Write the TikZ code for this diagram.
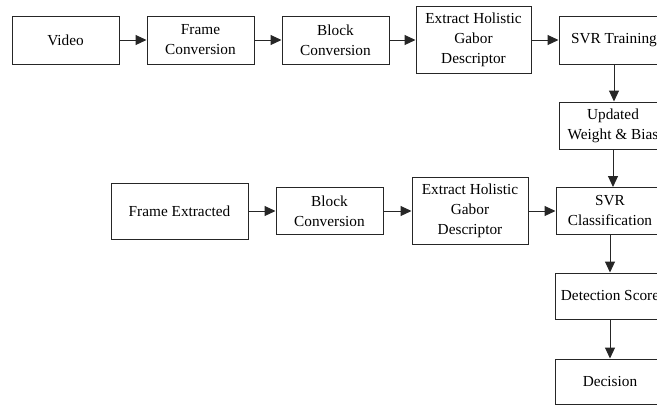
\documentclass[tikz,border=0pt]{standalone}
\usepackage{fontspec}
\setmainfont{Liberation Serif}
\usetikzlibrary{arrows.meta}
\begin{document}
\begin{tikzpicture}[x=1pt,y=-1pt,
  box/.style={draw=black!85,line width=1pt,rectangle,inner sep=0pt,align=center,
    font=\fontsize{15.3}{20}\selectfont},
  arr/.style={draw=black!85,line width=1pt,-{Triangle[length=11pt,width=10pt]}}]
\useasboundingbox (0,0) rectangle (657,408);
\node[box,minimum width=107pt,minimum height=48pt] (video) at (65.5,40) {Video};
\node[box,minimum width=107pt,minimum height=48pt] (frame) at (200.5,40) {Frame\\Conversion};
\node[box,minimum width=107pt,minimum height=48pt] (block) at (335.5,40) {Block\\Conversion};
\node[box,minimum width=115pt,minimum height=67pt] (ext1) at (473.5,40) {Extract Holistic\\Gabor\\Descriptor};
\node[box,minimum width=110pt,minimum height=48pt] (train) at (614,40) {SVR Training};
\node[box,minimum width=108pt,minimum height=47pt] (upd) at (613,125.5) {Updated\\Weight \& Bias};
\node[box,minimum width=108pt,minimum height=47pt] (cls) at (610,211) {SVR\\Classification};
\node[box,minimum width=116pt,minimum height=67pt] (ext2) at (470,211) {Extract Holistic\\Gabor\\Descriptor};
\node[box,minimum width=107pt,minimum height=47pt] (block2) at (329.5,211) {Block\\Conversion};
\node[box,minimum width=137pt,minimum height=56pt] (fex) at (179.5,211) {Frame Extracted};
\node[box,minimum width=110pt,minimum height=46pt] (det) at (610,296) {Detection Score};
\node[box,minimum width=110pt,minimum height=45pt] (dec) at (610,381.5) {Decision};
\draw[arr] (video) -- (frame);
\draw[arr] (frame) -- (block);
\draw[arr] (block) -- (ext1);
\draw[arr] (ext1) -- (train);
\draw[arr] (train.south) -- (train.south |- upd.north);
\draw[arr] (upd.south) -- (upd.south |- cls.north);
\draw[arr] (fex) -- (block2);
\draw[arr] (block2) -- (ext2);
\draw[arr] (ext2) -- (cls);
\draw[arr] (cls) -- (det);
\draw[arr] (det) -- (dec);
\end{tikzpicture}
\end{document}
